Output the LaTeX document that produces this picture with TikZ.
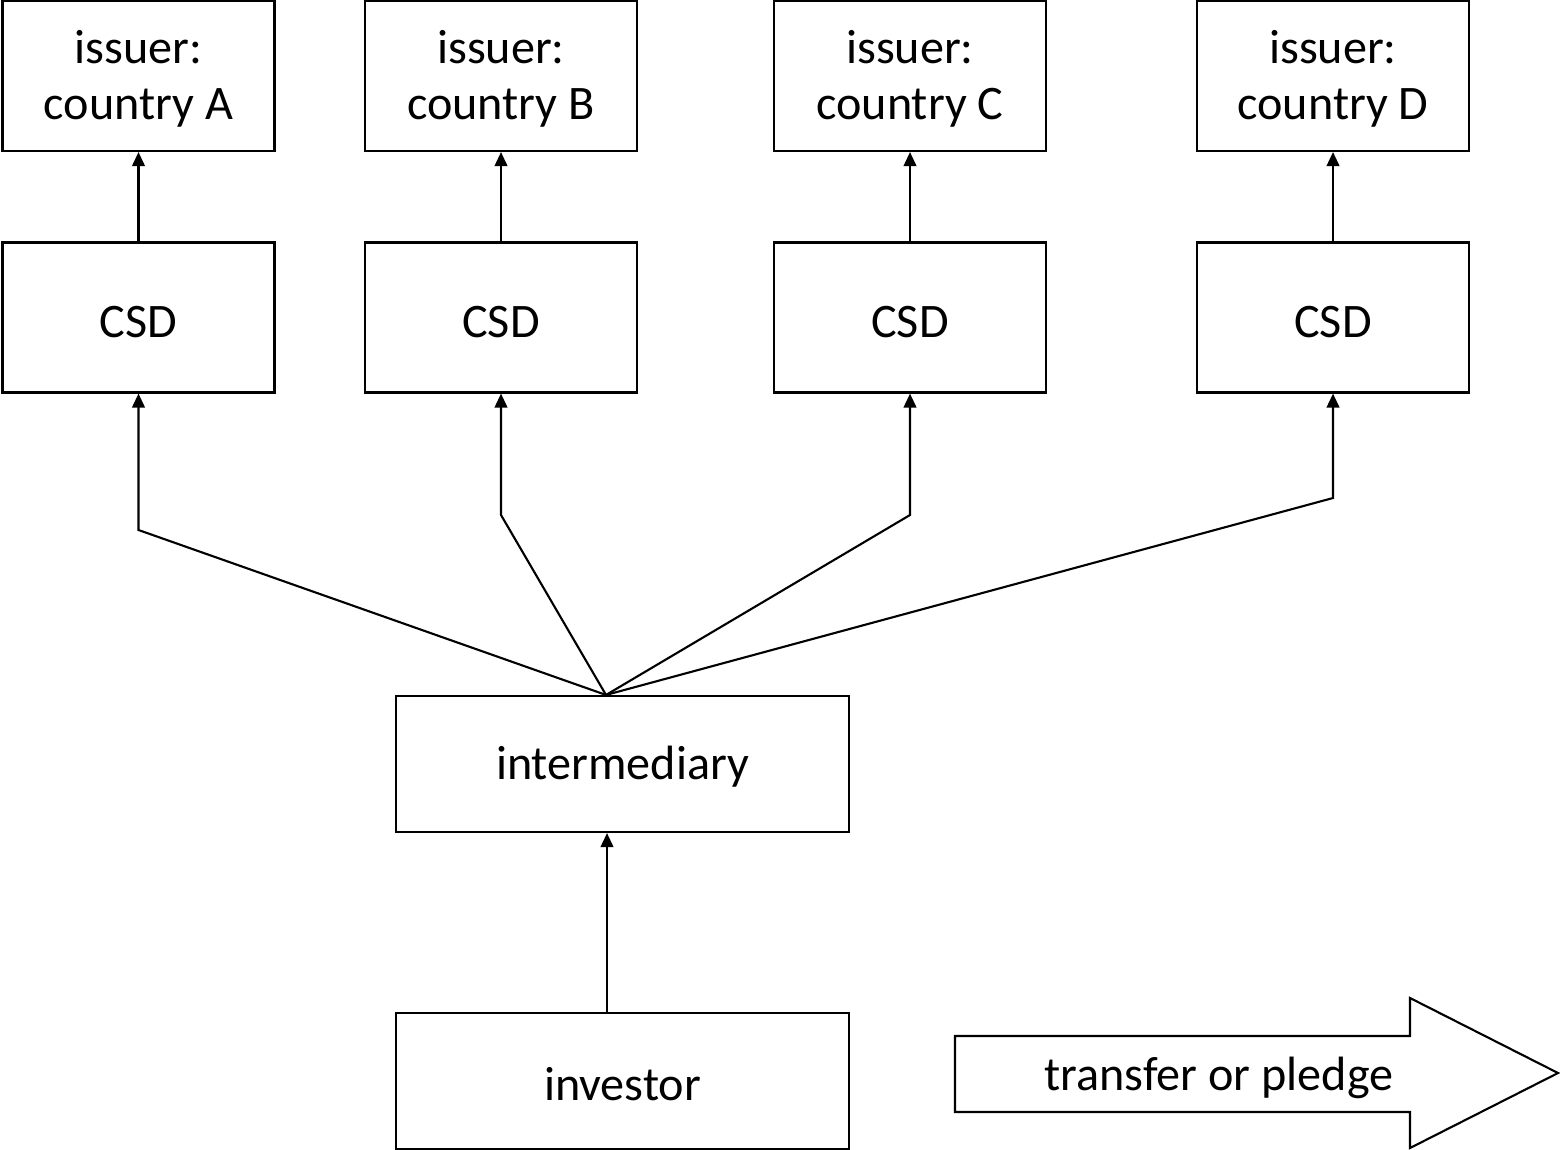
\documentclass[tikz,border=0pt]{standalone}
\usepackage{fontspec}
\setmainfont{Carlito}
\usetikzlibrary{arrows.meta}

\begin{document}
\begin{tikzpicture}[line width=0.6pt,
  font=\fontsize{13.7}{16}\selectfont,
  box/.style={draw, minimum width=2.72cm, minimum height=1.5cm, align=center, inner sep=0pt,
    execute at begin node={\rule{0pt}{11.2pt}}},
  issuer/.style={box, text depth=0.6pt},
  wide/.style={box, minimum width=4.53cm, minimum height=1.36cm},
  >={Triangle[length=4pt,width=3.6pt]}]
  \useasboundingbox (0,0) rectangle (15.6,-11.49);
  \node[issuer] (issA) at (1.385,-0.76) {issuer:\\country A};
  \node[issuer] (issB) at (5.01,-0.76) {issuer:\\country B};
  \node[issuer] (issC) at (9.10,-0.76) {issuer:\\country C};
  \node[issuer] (issD) at (13.33,-0.76) {issuer:\\country D};
  \node[box] (csdA) at (1.385,-3.175) {CSD};
  \node[box] (csdB) at (5.01,-3.175) {CSD};
  \node[box] (csdC) at (9.10,-3.175) {CSD};
  \node[box] (csdD) at (13.33,-3.175) {CSD};
  \node[wide] (inter) at (6.225,-7.64) {intermediary};
  \node[wide] (inv) at (6.225,-10.81) {investor};
  \draw[->] (csdA) -- (issA);
  \draw[->] (csdB) -- (issB);
  \draw[->] (csdC) -- (issC);
  \draw[->] (csdD) -- (issD);
  \coordinate (hub) at ([xshift=-0.165cm]inter.north);
  \draw[->] (hub) -- (csdA.south |- 0,-5.30) -- (csdA.south);
  \draw[->] (hub) -- (csdB.south |- 0,-5.15) -- (csdB.south);
  \draw[->] (hub) -- (csdC.south |- 0,-5.15) -- (csdC.south);
  \draw[->] (hub) -- (csdD.south |- 0,-4.98) -- (csdD.south);
  \draw[->] ([xshift=-0.155cm]inv.north) -- ([xshift=-0.155cm]inter.south);
  % big arrow
  \draw (9.55,-10.36) -- (14.10,-10.36) -- (14.10,-9.98) -- (15.58,-10.73)
    -- (14.10,-11.48) -- (14.10,-11.12) -- (9.55,-11.12) -- cycle;
  \node (move) at (12.19,-10.78) {transfer or pledge};
\end{tikzpicture}
\end{document}
